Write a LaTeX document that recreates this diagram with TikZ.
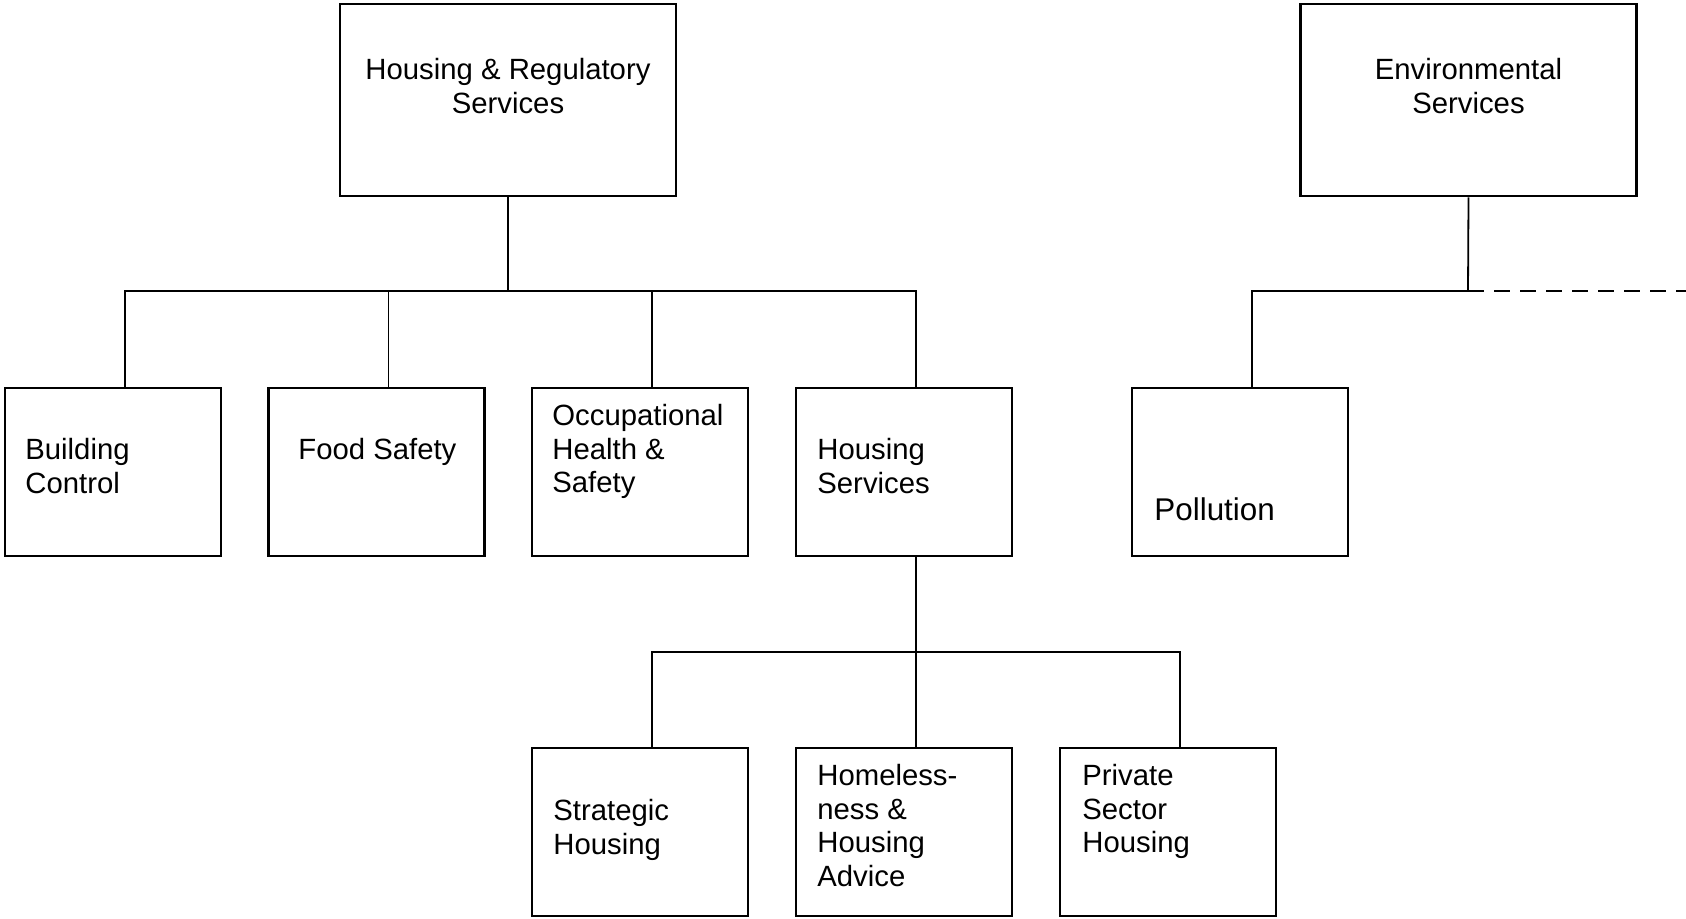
\documentclass[tikz,border=0pt]{standalone}
\usepackage{fontspec}
\setmainfont{Liberation Sans}
\begin{document}
\begin{tikzpicture}[x=0.5pt,y=-0.5pt,
  box/.style={draw, line width=1.4pt, minimum width=108pt, minimum height=84pt, inner sep=0pt},
  bigbox/.style={draw, line width=1.4pt, minimum width=168pt, minimum height=96pt, inner sep=0pt},
  conn/.style={line width=0.9pt},
  dconn/.style={line width=0.9pt, dash pattern=on 8pt off 5pt},
  lbl/.style={inner sep=0pt, anchor=north west, align=left, font=\fontsize{14.65}{16.8}\selectfont},
  clbl/.style={inner sep=0pt, anchor=north, align=center, font=\fontsize{14.65}{16.9}\selectfont},
  plbl/.style={inner sep=0pt, anchor=north west, align=left, font=\fontsize{15.7}{18}\selectfont}]
\useasboundingbox (0,0) rectangle (1686,919);
% boxes
\node[bigbox] (hrs) at (508,100) {};
\node[bigbox] (env) at (1468.5,100) {};
\node[box] (bc) at (113,472) {};
\node[box] (fs) at (376.5,472) {};
\node[box] (ohs) at (640,472) {};
\node[box] (hs) at (904,472) {};
\node[box] (pol) at (1240,472) {};
\node[box] (sh) at (640,832) {};
\node[box] (hh) at (904,832) {};
\node[box] (ps) at (1168,832) {};
% texts
\node[clbl] (hrst) at (508,57) {\rule{0pt}{11pt}Housing \& Regulatory\\Services};
\node[clbl] (envt) at (1468.5,57) {\rule{0pt}{11pt}Environmental\\Services};
\node[lbl] (bct) at (25,437) {\rule{0pt}{11pt}Building\\Control};
\node[lbl] (fst) at (298,437) {\rule{0pt}{11pt}Food Safety};
\node[lbl] (ohst) at (552,403) {\rule{0pt}{11pt}Occupational\\Health \&\\Safety};
\node[lbl] (hst) at (817,437) {\rule{0pt}{11pt}Housing\\Services};
\node[plbl] (polt) at (1154,496) {\rule{0pt}{11.8pt}Pollution};
\node[lbl] (sht) at (553,798) {\rule{0pt}{11pt}Strategic\\Housing};
\node[lbl] (hht) at (817,763) {\rule{0pt}{11pt}Homeless-\\ness \&\\Housing\\Advice};
\node[lbl] (pst) at (1082,763) {\rule{0pt}{11pt}Private\\Sector\\Housing};
% bus points
\coordinate (b1) at (508,291);
\coordinate (b2) at (916,652);
\coordinate (b3) at (1468,291);
\coordinate (dend) at (1686,291);
% connectors
\draw[conn] (hrs.south) -- (b1);
\draw[conn] ([xshift=6pt]bc.north) |- (b1);
\draw[conn] (b1) -| ([xshift=6pt]hs.north);
\draw[conn] ([xshift=6pt]fs.north) -- ([xshift=6pt]fs.north |- b1);
\draw[conn] ([xshift=6pt]ohs.north) -- ([xshift=6pt]ohs.north |- b1);
\draw[conn] ([xshift=6pt]hs.south) -- ([xshift=6pt]hh.north);
\draw[conn] ([xshift=6pt]sh.north) |- (b2);
\draw[conn] (b2) -| ([xshift=6pt]ps.north);
\draw[conn] (env.south) -- (b3);
\draw[conn] ([xshift=6pt]pol.north) |- (b3);
\draw[dconn] (b3) -- (dend);
\end{tikzpicture}
\end{document}
